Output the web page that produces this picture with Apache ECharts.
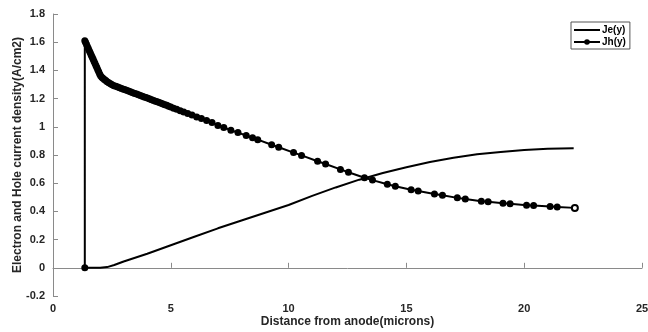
<!DOCTYPE html>
<html>
<head>
<meta charset="utf-8">
<script src="https://cdn.jsdelivr.net/npm/echarts@6/dist/echarts.min.js"></script>
<style>html,body{margin:0;padding:0;background:#fff}#c{width:648px;height:332px}</style>
</head>
<body>
<div id="c"></div>
<script>
const seriesNames = ['Je(y)', 'Jh(y)'];
const xTicks = { min: 0, max: 25, interval: 5 };
const yTicks = { min: -0.2, max: 1.8, interval: 0.2 };
const xName = 'Distance from anode(microns)';
const yName = 'Electron and Hole current density(A/cm2)';

const jeX = [1.35, 2.0, 2.3, 2.6, 3, 4, 5, 6, 7, 8, 9, 10, 11, 12, 13, 14, 15, 16, 17, 18, 19, 20, 21, 22.1];
const jeY = [0, 0, 0.005, 0.02, 0.045, 0.10, 0.16, 0.22, 0.28, 0.335, 0.39, 0.445, 0.51, 0.57, 0.625, 0.672, 0.713, 0.75, 0.78, 0.805, 0.822, 0.835, 0.844, 0.848];

const jhX = [1.35, 1.35, 1.38, 1.42, 1.46, 1.5, 1.54, 1.58, 1.62, 1.66, 1.7, 1.74, 1.78, 1.82, 1.86, 1.9, 1.94, 1.98, 2.02, 2.07, 2.12, 2.18, 2.24, 2.3, 2.37, 2.44, 2.51,
  2.59, 2.67, 2.75, 2.83, 2.91, 2.99, 3.07, 3.15, 3.23, 3.31, 3.39, 3.47, 3.55, 3.63, 3.71, 3.79, 3.87, 3.95, 4.03, 4.11, 4.19, 4.27, 4.35, 4.43, 4.51, 4.59, 4.67, 4.75, 4.83, 4.91, 5.0,
  5.12, 5.25, 5.4, 5.55, 5.72, 5.9, 6.1, 6.3, 6.52, 6.75, 7.0, 7.25, 7.55, 7.85, 8.2, 8.47, 8.69, 9.28, 9.58, 10.21, 10.55, 11.23, 11.57, 12.2, 12.54, 13.22, 13.56,
  14.19, 14.53, 15.2, 15.5, 16.19, 16.53, 17.16, 17.5, 18.18, 18.47, 19.1, 19.4, 20.1, 20.4, 21.1, 21.4, 22.15];
const jhY = [0, 1.61, 1.60, 1.585, 1.57, 1.555, 1.54, 1.525, 1.51, 1.495, 1.48, 1.465, 1.45, 1.435, 1.42, 1.405, 1.39, 1.375, 1.362, 1.352, 1.344, 1.336, 1.328, 1.32, 1.312, 1.305, 1.298,
  1.292, 1.287, 1.282, 1.277, 1.272, 1.267, 1.262, 1.257, 1.252, 1.247, 1.242, 1.237, 1.232, 1.227, 1.222, 1.217, 1.212, 1.207, 1.202, 1.197, 1.192, 1.187, 1.182, 1.177, 1.172, 1.167, 1.162, 1.157, 1.152, 1.146, 1.14,
  1.132, 1.124, 1.114, 1.105, 1.094, 1.083, 1.07, 1.058, 1.044, 1.03, 1.01, 0.995, 0.976, 0.959, 0.938, 0.922, 0.909, 0.873, 0.855, 0.817, 0.797, 0.756, 0.736, 0.698, 0.678, 0.639, 0.622,
  0.592, 0.579, 0.554, 0.545, 0.524, 0.514, 0.496, 0.4875, 0.472, 0.468, 0.4585, 0.454, 0.444, 0.441, 0.434, 0.431, 0.425];

const chart = echarts.init(document.getElementById('c'), null, { renderer: 'canvas' });
const jeData = jeX.map((x, i) => [x, jeY[i]]);
const jhData = jhX.map((x, i) => {
  if (i === jhX.length - 1) {
    return { value: [x, jhY[i]], symbolSize: 6, itemStyle: { color: '#fff', borderColor: '#000', borderWidth: 2 } };
  }
  return [x, jhY[i]];
});

const axisColor = '#8a8a8a';
const labelStyle = { color: '#262626', fontSize: 11, fontWeight: 'bold', fontFamily: 'Liberation Sans, Arial, sans-serif' };
const nameStyle = { color: '#262626', fontSize: 12, fontWeight: 'bold', fontFamily: 'Liberation Sans, Arial, sans-serif' };

chart.setOption({
  animation: false,
  backgroundColor: '#fff',
  grid: { left: 53, right: 6, top: 14, bottom: 36, containLabel: false, outerBoundsMode: 'none' },
  legend: {
    orient: 'vertical', left: 571, top: 22,
    data: [{ name: seriesNames[0], itemStyle: { opacity: 0 } }, { name: seriesNames[1] }],
    itemWidth: 26, itemHeight: 7, itemGap: 2,
    padding: [3, 4, 2, 2],
    borderColor: '#555', borderWidth: 1,
    textStyle: { color: '#000', fontSize: 10, fontWeight: 'bold', fontFamily: 'Liberation Sans, Arial, sans-serif', padding: [0, 0, 0, -3] }
  },
  xAxis: {
    type: 'value', min: xTicks.min, max: xTicks.max, interval: xTicks.interval,
    name: xName, nameLocation: 'middle', nameGap: 20, nameMoveOverlap: false, nameTextStyle: nameStyle,
    axisLine: { lineStyle: { color: axisColor, width: 1 } },
    axisTick: { inside: true, length: 5, lineStyle: { color: axisColor } },
    axisLabel: Object.assign({ margin: 7 }, labelStyle),
    splitLine: { show: false }
  },
  yAxis: {
    type: 'value', min: yTicks.min, max: yTicks.max, interval: yTicks.interval,
    name: yName, nameLocation: 'middle', nameGap: 29, nameMoveOverlap: false, nameTextStyle: nameStyle,
    axisLine: { show: true, lineStyle: { color: axisColor, width: 1 } },
    axisTick: { show: true, inside: true, length: 5, lineStyle: { color: axisColor } },
    axisLabel: Object.assign({ margin: 8, formatter: v => String(+v.toFixed(1)) }, labelStyle),
    splitLine: { show: false }
  },
  series: [
    {
      name: seriesNames[0], type: 'line', data: jeData,
      symbol: 'none', lineStyle: { color: '#000', width: 2 }, itemStyle: { color: '#000' }
    },
    {
      name: seriesNames[1], type: 'line', data: jhData,
      symbol: 'circle', symbolSize: 7, showAllSymbol: true,
      lineStyle: { color: '#000', width: 2 }, itemStyle: { color: '#000' }
    }
  ]
});
</script>
</body>
</html>
